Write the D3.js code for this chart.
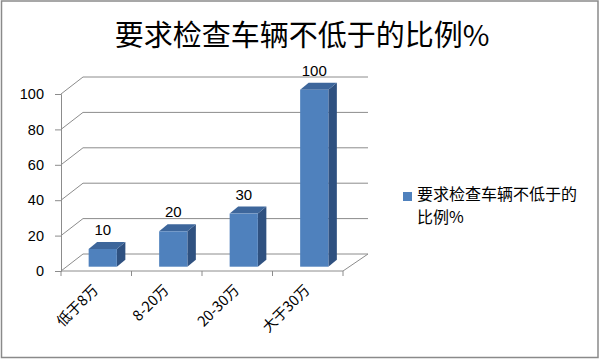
<!DOCTYPE html>
<html><head><meta charset="utf-8">
<script src="https://cdn.jsdelivr.net/npm/d3@7"></script>
<style>body{margin:0;background:#fff}svg{display:block}</style>
</head><body>
<svg id="c" width="600" height="359"></svg>
<script>
const categories = ["低于8万", "8-20万", "20-30万", "大于30万"];
const values = [10, 20, 30, 100];
const yTicks = [0, 20, 40, 60, 80, 100];
const title = "要求检查车辆不低于的比例%";
const legendLines = ["要求检查车辆不低于的", "比例%"];

const svg = d3.select("#c");
const FONT = "'Noto Sans CJK SC','Noto Sans',sans-serif";
const NUMFONT = "'Liberation Sans','Noto Sans',sans-serif";
const gridColor = "#8c8c8c";

// frame
svg.append("rect").attr("x",1.5).attr("y",1).attr("width",596.5).attr("height",356.5)
  .attr("fill","#fff").attr("stroke","#8a8a8a").attr("stroke-width",1.5);

// title
svg.append("text").attr("x",302).attr("y",46).attr("text-anchor","middle")
  .attr("font-family",FONT).attr("font-size",29).attr("fill","#000").text(title);

const x0 = 61, x1 = 343;
const y = d3.scaleLinear().domain([0,100]).range([271,94]);
const x = d3.scaleBand().domain(categories).range([x0,x1]).paddingInner(0.6).paddingOuter(0.3);
const wall = {dx:22, dy:-17};
const front = {dx:6.5, dy:-4.3};
const depth = {dx:8.5, dy:-7};

const g = svg.append("g");
// gridlines on back wall and left wall diagonals
yTicks.forEach(t => {
  const yy = y(t);
  g.append("line").attr("x1",x0+wall.dx).attr("x2",x1+wall.dx+3)
    .attr("y1",yy+wall.dy).attr("y2",yy+wall.dy).attr("stroke",gridColor).attr("stroke-width",1);
  g.append("line").attr("x1",x0).attr("y1",yy).attr("x2",x0+wall.dx).attr("y2",yy+wall.dy)
    .attr("stroke",gridColor).attr("stroke-width",1);
});
// floor
g.append("line").attr("x1",x1).attr("y1",y(0)).attr("x2",x1+wall.dx+3).attr("y2",y(0)+wall.dy)
  .attr("stroke",gridColor);

// y axis
const yAxis = d3.axisLeft(y).tickValues(yTicks).tickSize(6).tickPadding(11);
const ya = svg.append("g").attr("transform",`translate(${x0},0)`).call(yAxis);
ya.select(".domain").attr("stroke",gridColor);
ya.selectAll(".tick line").attr("stroke",gridColor);
ya.selectAll(".tick text").attr("font-family",NUMFONT).attr("font-size",14.5).attr("fill","#000");

// x axis
const xEdges = d3.scaleLinear().domain([0,categories.length]).range([x0,x1]);
const xa = svg.append("g").attr("transform",`translate(0,${y(0)})`);
xa.append("line").attr("x1",x0).attr("x2",x1).attr("stroke",gridColor);
d3.range(categories.length+1).forEach(i => {
  xa.append("line").attr("x1",xEdges(i)).attr("x2",xEdges(i)).attr("y1",0).attr("y2",5).attr("stroke",gridColor);
});
categories.forEach((c,i) => {
  const cx = (xEdges(i)+xEdges(i+1))/2 + 3;
  xa.append("text").attr("transform",`translate(${cx},20) rotate(-45)`)
    .attr("text-anchor","end").attr("font-family",FONT).attr("font-size",14.5).attr("fill","#000").text(c);
});

// bars
const bw = x.bandwidth();
categories.forEach((c,i) => {
  const v = values[i];
  const bx = x(c) + front.dx;
  const by0 = y(0) + front.dy;
  const by1 = y(v) + front.dy;
  const bg = svg.append("g");
  // side
  bg.append("path").attr("d", d3.line()([[bx+bw,by1],[bx+bw+depth.dx,by1+depth.dy],[bx+bw+depth.dx,by0+depth.dy],[bx+bw,by0]]) + "Z")
    .attr("fill","#2f5180");
  // top
  bg.append("path").attr("d", d3.line()([[bx,by1],[bx+depth.dx,by1+depth.dy],[bx+bw+depth.dx,by1+depth.dy],[bx+bw,by1]]) + "Z")
    .attr("fill","#3d669b");
  // front
  bg.append("rect").attr("x",bx).attr("y",by1).attr("width",bw).attr("height",by0-by1).attr("fill","#4f81bd");
  // label
  svg.append("text").attr("x",bx+bw/2).attr("y",by1-14).attr("text-anchor","middle")
    .attr("font-family",NUMFONT).attr("font-size",15).attr("fill","#000").text(v);
});

// legend
svg.append("rect").attr("x",403).attr("y",192).attr("width",9).attr("height",9).attr("fill","#4f81bd");
legendLines.forEach((t,i) => {
  svg.append("text").attr("x",417).attr("y",200+i*23).attr("font-family",FONT).attr("font-size",16)
    .attr("fill","#000").text(t);
});
</script>
</body></html>
